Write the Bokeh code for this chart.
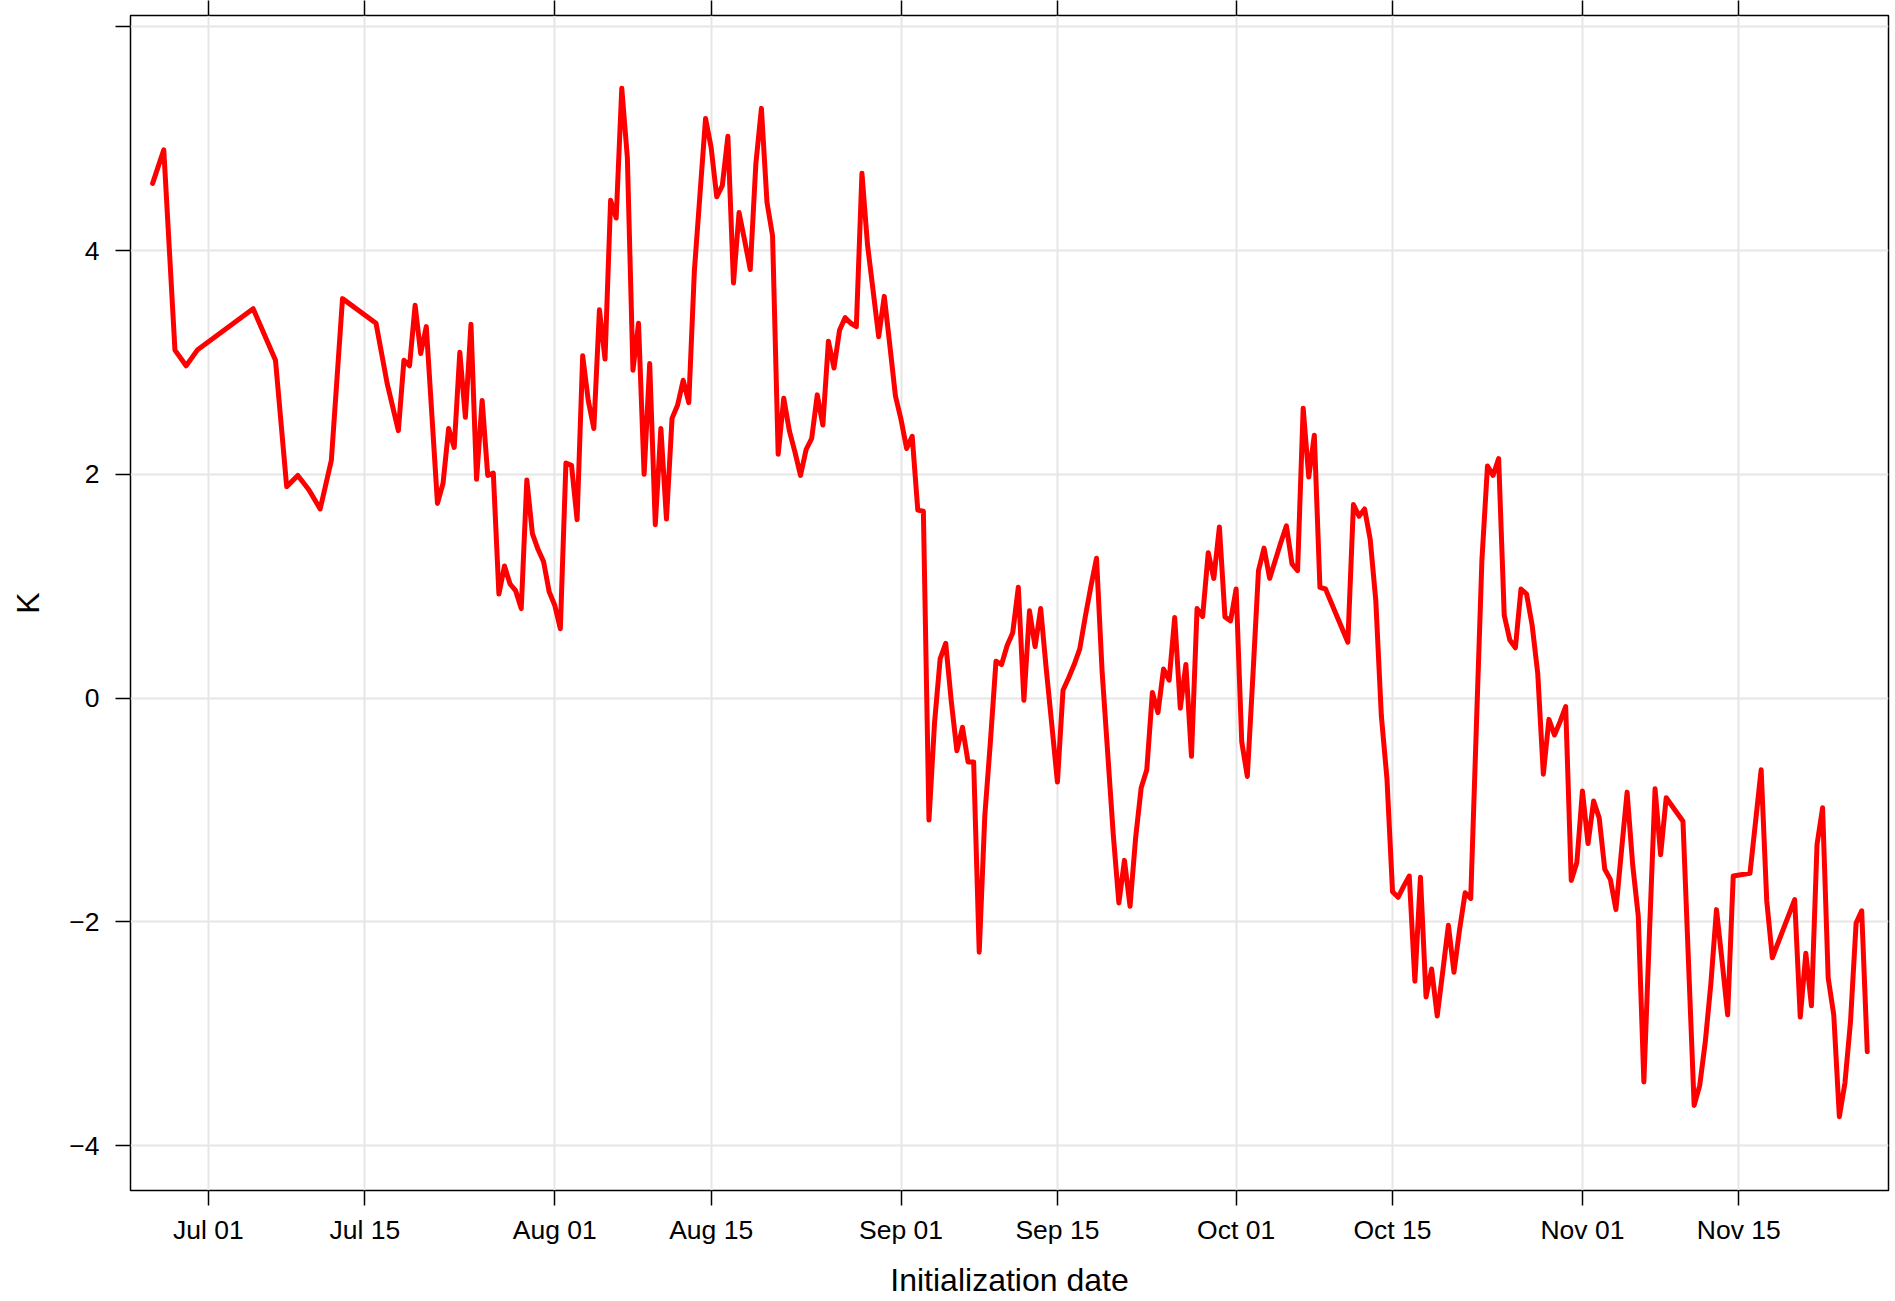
import pandas as pd
from bokeh.plotting import figure
from bokeh.models import (FixedTicker, DatetimeTickFormatter, DatetimeAxis,
                          Range1d, ColumnDataSource)
from bokeh.embed import file_html
from bokeh.resources import INLINE

# ---------------- data ----------------
base_date = "2019-07-01"
# initialization time, in days after base_date
init_day = [
    -5, -4, -3, -2, -1, 4, 6, 7, 8, 9, 10, 11, 12, 15, 16, 17, 17.5, 18, 18.5, 19, 19.5,
    20.5, 21, 21.5, 22, 22.5, 23, 23.5, 24, 24.5, 25, 25.5, 26, 26.5, 27, 27.5, 28, 28.5,
    29, 29.5, 30, 30.5, 31, 31.5, 32, 32.5, 33, 33.5, 34, 34.5, 35, 35.5, 36, 36.5, 37,
    37.5, 38, 38.5, 39, 39.5, 40, 40.5, 41, 41.5, 42, 42.5, 43, 43.5, 44, 44.5, 45, 45.5,
    46, 46.5, 47, 47.5, 48, 48.5, 49, 49.5, 50, 50.5, 51, 51.5, 52, 52.5, 53, 53.5, 54,
    54.5, 55, 55.5, 56, 56.5, 57, 57.5, 58, 58.5, 59, 59.5, 60, 60.5, 61, 61.5, 62, 62.5,
    63, 63.5, 64, 64.5, 65, 65.5, 66, 66.5, 67, 67.5, 68, 68.5, 69, 69.5, 70, 70.5, 71,
    71.5, 72, 72.5, 73, 73.5, 74, 74.5, 75, 75.5, 76, 76.5, 77, 77.5, 78, 78.5, 79, 79.5,
    80, 80.5, 81, 81.5, 82, 82.5, 83, 83.5, 84, 84.5, 85, 85.5, 86, 86.5, 87, 87.5, 88,
    88.5, 89, 89.5, 90, 90.5, 91, 91.5, 92, 92.5, 93, 93.5, 94, 94.5, 95, 95.5, 96, 96.5,
    97, 97.5, 98, 98.5, 99, 99.5, 100, 102, 102.5, 103, 103.5, 104, 104.5, 105, 105.5,
    106, 106.5, 107, 107.5, 108, 108.5, 109, 109.5, 110, 110.5, 111, 111.5, 112, 112.5,
    113, 113.5, 114, 114.5, 115, 115.5, 116, 116.5, 117, 117.5, 118, 118.5, 119, 119.5,
    120, 120.5, 121, 121.5, 122, 122.5, 123, 123.5, 124, 124.5, 125, 125.5, 126, 126.5,
    127, 127.5, 128, 128.5, 129, 129.5, 130, 130.5, 132, 133, 133.5, 134, 134.5, 135,
    135.5, 136, 136.5, 138, 139, 139.5, 140, 142, 142.5, 143, 143.5, 144, 144.5, 145,
    145.5, 146, 146.5, 147, 147.5, 148, 148.5,
]
anomaly_K = [
    4.60, 4.90, 3.11, 2.97, 3.11, 3.48, 3.02, 1.89, 1.99, 1.86, 1.69, 2.125, 3.57, 3.35,
    2.81, 2.39, 3.02, 2.97, 3.51, 3.08, 3.32,
    1.74, 1.92, 2.41, 2.24, 3.09, 2.51, 3.34, 1.955, 2.66, 1.99, 2.01, 0.93, 1.18, 1.02,
    0.96, 0.80, 1.95,
    1.47, 1.33, 1.22, 0.95, 0.83, 0.62, 2.10, 2.08, 1.595, 3.06, 2.66, 2.41, 3.47, 3.03,
    4.45, 4.29, 5.45,
    4.83, 2.93, 3.35, 2.00, 2.99, 1.55, 2.41, 1.60, 2.50, 2.62, 2.84, 2.64, 3.82, 4.50,
    5.18, 4.92, 4.48,
    4.58, 5.02, 3.71, 4.34, 4.09, 3.83, 4.77, 5.27, 4.43, 4.13, 2.18, 2.68, 2.39, 2.20,
    1.99, 2.22, 2.32,
    2.71, 2.44, 3.19, 2.95, 3.29, 3.40, 3.35, 3.32, 4.69, 4.05, 3.64, 3.23, 3.59, 3.15,
    2.70, 2.49, 2.23,
    2.34, 1.68, 1.67, -1.09, -0.22, 0.35, 0.49, -0.03, -0.47, -0.26, -0.57, -0.57, -2.27,
    -1.05, -0.39, 0.33, 0.30,
    0.47, 0.585, 0.99, -0.02, 0.78, 0.46, 0.80, 0.26, -0.24, -0.75, 0.07, 0.18, 0.30,
    0.44, 0.73, 1.00, 1.25,
    0.24, -0.49, -1.22, -1.83, -1.45, -1.86, -1.25, -0.80, -0.64, 0.05, -0.13, 0.26, 0.16,
    0.72, -0.09, 0.30, -0.52,
    0.80, 0.73, 1.30, 1.07, 1.53, 0.725, 0.69, 0.975, -0.39, -0.70, 0.20, 1.14, 1.34,
    1.07, 1.23, 1.39, 1.54,
    1.20, 1.14, 2.59, 1.975, 2.35, 0.99, 0.975, 0.50, 1.73, 1.625, 1.69, 1.42, 0.875,
    -0.16, -0.72,
    -1.73, -1.78, -1.68, -1.59, -2.53, -1.60, -2.67, -2.42, -2.84, -2.44, -2.03, -2.45,
    -2.07, -1.74,
    -1.79, -0.27, 1.23, 2.075, 1.99, 2.14, 0.74, 0.52, 0.45, 0.975, 0.93, 0.65, 0.22,
    -0.68,
    -0.19, -0.33, -0.21, -0.075, -1.63, -1.47, -0.83, -1.30, -0.92, -1.07, -1.53, -1.62,
    -1.89, -1.36,
    -0.84, -1.49, -1.95, -3.43, -2.10, -0.81, -1.40, -0.89, -1.10, -3.64, -3.46, -3.07,
    -2.55, -1.89,
    -2.35, -2.83, -1.59, -1.565, -0.64, -1.81, -2.32, -1.80, -2.85, -2.28, -2.75, -1.31,
    -0.98, -2.50,
    -2.83, -3.74, -3.44, -2.89, -2.01, -1.90, -3.16,
]
x_tick_labels = ["Jul 01", "Jul 15", "Aug 01", "Aug 15", "Sep 01",
                 "Sep 15", "Oct 01", "Oct 15", "Nov 01", "Nov 15"]
y_ticks = [-4, -2, 0, 2, 4, 6]
y_tick_labels = ["\u22124", "\u22122", "0", "2", "4", ""]
y_label = "K"
x_label = "Initialization date"

# ---------------- build ----------------
base = pd.Timestamp(base_date)
times = base + pd.to_timedelta(init_day, unit="D")
src = ColumnDataSource(dict(t=times, k=anomaly_K))

year = base.year
tick_ms = [pd.to_datetime(f"{lbl} {year}", format="%b %d %Y").value / 1e6
           for lbl in x_tick_labels]

x_start = base - pd.Timedelta(days=6.98)
x_end = base + pd.Timedelta(days=150.4)

FONT = "Liberation Sans"

p = figure(width=1895, height=1301, x_axis_type="datetime",
           output_backend="svg", toolbar_location=None,
           x_range=Range1d(x_start, x_end), y_range=Range1d(-4.40, 6.10),
           min_border_left=130, min_border_right=7,
           min_border_top=15, min_border_bottom=111)
p.background_fill_color = "white"
p.border_fill_color = "white"
p.outline_line_color = "black"
p.outline_line_width = 1.5

xt = FixedTicker(ticks=tick_ms)
fmt = DatetimeTickFormatter(days="%b %d", months="%b %d", hours="%b %d",
                            years="%b %d")

# grid
p.xgrid.ticker = xt
p.ygrid.ticker = FixedTicker(ticks=y_ticks)
for g in (p.xgrid, p.ygrid):
    g.grid_line_color = "#e6e6e6"
    g.grid_line_width = 2

# bottom axis
xa = p.xaxis[0]
xa.ticker = xt
xa.formatter = fmt
xa.axis_label = x_label
xa.axis_line_color = None
xa.major_tick_out = 15
xa.major_tick_in = 0
xa.major_tick_line_width = 1.5
xa.minor_tick_line_color = None
xa.major_label_standoff = 9
xa.major_label_text_font = FONT
xa.major_label_text_font_size = "26.5px"
xa.major_label_text_color = "black"
xa.axis_label_text_font = FONT
xa.axis_label_text_font_size = "32px"
xa.axis_label_text_font_style = "normal"
xa.axis_label_text_color = "black"
xa.axis_label_standoff = 14

# left axis
ya = p.yaxis[0]
ya.ticker = FixedTicker(ticks=y_ticks)
ya.major_label_overrides = {v: s for v, s in zip(y_ticks, y_tick_labels)}
ya.axis_label = y_label
ya.axis_line_color = None
ya.major_tick_out = 15
ya.major_tick_in = 0
ya.major_tick_line_width = 1.5
ya.minor_tick_line_color = None
ya.major_label_standoff = 16
ya.major_label_orientation = "horizontal"
ya.major_label_text_font = FONT
ya.major_label_text_font_size = "26.5px"
ya.major_label_text_color = "black"
ya.axis_label_text_font = FONT
ya.axis_label_text_font_size = "32px"
ya.axis_label_text_font_style = "normal"
ya.axis_label_text_color = "black"
ya.axis_label_standoff = 20

# top axis: ticks only, no labels
top = DatetimeAxis(ticker=xt, formatter=fmt, axis_line_color=None,
                   major_tick_out=15, major_tick_in=0, major_tick_line_width=1.5,
                   minor_tick_line_color=None, major_label_standoff=0,
                   major_label_text_font_size="1px",
                   major_label_overrides={v: "" for v in tick_ms})
p.add_layout(top, "above")

p.line("t", "k", source=src, line_color="#ff0000", line_width=5,
       line_join="round", line_cap="round")

open("out.html", "w").write(file_html(p, INLINE))
